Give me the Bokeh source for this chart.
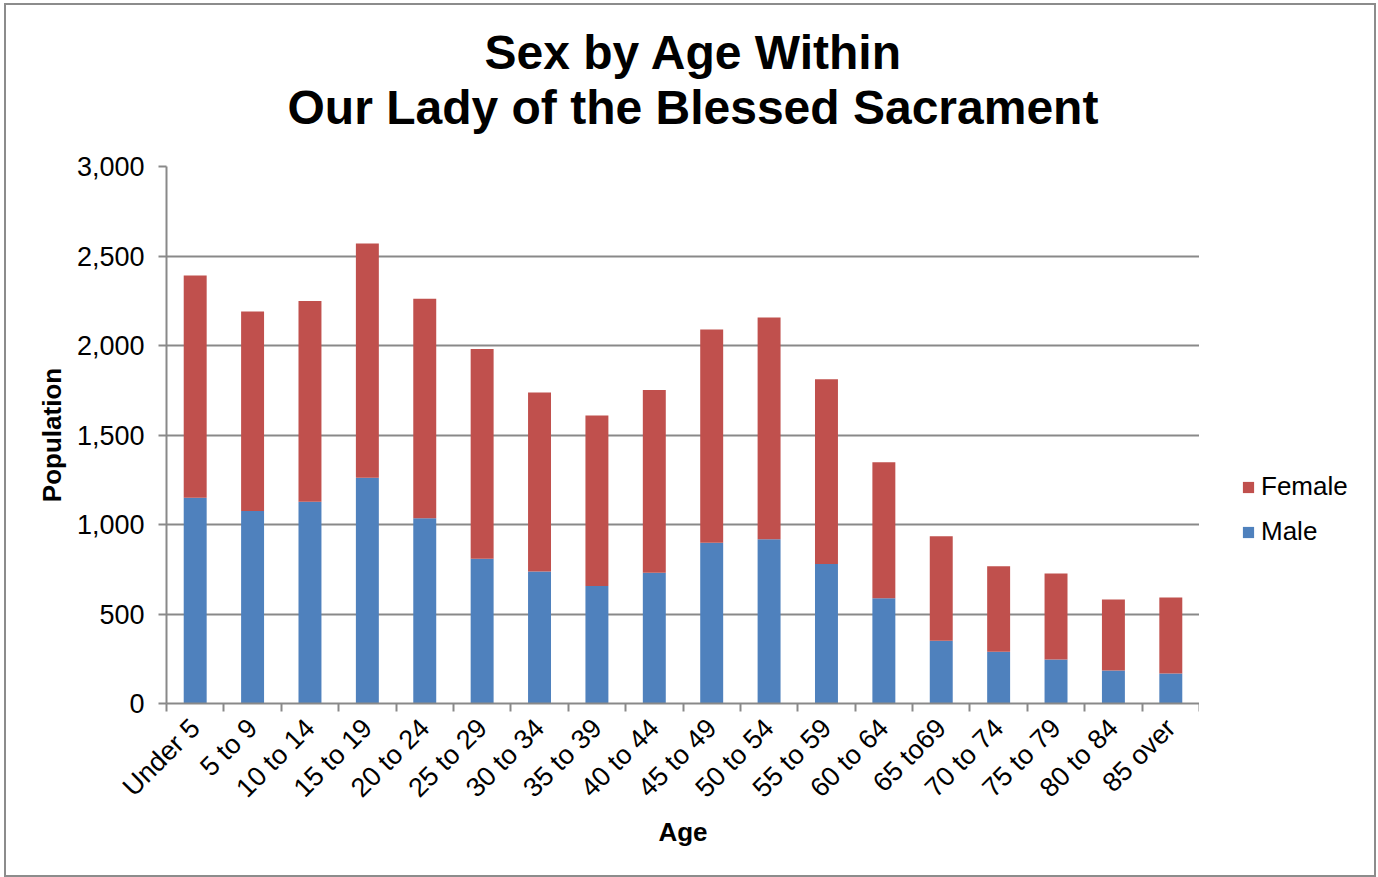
import numpy as np
from bokeh.plotting import figure
from bokeh.layouts import row
from bokeh.models import (Range1d, FixedTicker, NumeralTickFormatter, Legend, LegendItem, Title, ColumnDataSource)
from bokeh.embed import file_html
from bokeh.resources import INLINE

categories = ["Under 5", "5 to 9", "10 to 14", "15 to 19", "20 to 24", "25 to 29", "30 to 34",
              "35 to 39", "40 to 44", "45 to 49", "50 to 54", "55 to 59", "60 to 64", "65 to69",
              "70 to 74", "75 to 79", "80 to 84", "85 over"]
male = [1150, 1076, 1127, 1261, 1035, 808, 737, 657, 730, 898, 918, 780, 588, 350, 289, 246, 184, 168]
female = [1241, 1114, 1121, 1309, 1226, 1173, 1000, 952, 1022, 1191, 1238, 1032, 760, 585, 478, 480, 397, 424]
y_ticks = [0, 500, 1000, 1500, 2000, 2500, 3000]
series = ["Male", "Female"]
colors = ["#4F81BD", "#C0504D"]

FONT = "Liberation Sans"
GRAY = "#898989"

n = len(categories)
xpos = [i + 0.5 for i in range(n)]
src = ColumnDataSource(dict(x=xpos, Male=male, Female=female))

p = figure(width=1193, height=870, output_backend="svg", toolbar_location=None,
           x_range=Range1d(0, n), y_range=Range1d(0, 3000),
           min_border_left=160, min_border_right=0, min_border_top=161, min_border_bottom=172)
p.outline_line_color = None
p.background_fill_color = "white"
p.border_fill_color = "white"

r = p.vbar_stack(series, x="x", width=0.4, source=src, color=colors, line_color=None)

# axes
xa = p.xaxis[0]
xa.ticker = FixedTicker(ticks=xpos, minor_ticks=list(range(n + 1)))
xa.major_label_overrides = {x: c for x, c in zip(xpos, categories)}
xa.major_tick_line_color = None
xa.minor_tick_line_color = GRAY
xa.minor_tick_line_width = 2
xa.minor_tick_out = 8
xa.minor_tick_in = 0
xa.major_label_orientation = np.pi / 4
xa.major_label_standoff = 12
xa.major_label_text_font = FONT
xa.major_label_text_font_size = "27px"
xa.major_label_text_color = "black"
xa.axis_line_color = GRAY
xa.axis_line_width = 2
xa.axis_label = "Age"
xa.axis_label_text_font = FONT
xa.axis_label_text_font_style = "bold"
xa.axis_label_text_font_size = "26px"
xa.axis_label_text_color = "black"
xa.axis_label_standoff = 0

ya = p.yaxis[0]
ya.ticker = FixedTicker(ticks=y_ticks)
ya.formatter = NumeralTickFormatter(format="0,0")
ya.major_tick_line_color = GRAY
ya.major_tick_line_width = 2
ya.major_tick_out = 8
ya.major_tick_in = 0
ya.minor_tick_line_color = None
ya.major_label_standoff = 14
ya.major_label_text_font = FONT
ya.major_label_text_font_size = "27px"
ya.major_label_text_color = "black"
ya.axis_line_color = GRAY
ya.axis_line_width = 2
ya.axis_label = "Population"
ya.axis_label_text_font = FONT
ya.axis_label_text_font_style = "bold"
ya.axis_label_text_font_size = "26px"
ya.axis_label_text_color = "black"
ya.axis_label_standoff = 7

p.xgrid.grid_line_color = None
p.ygrid.ticker = FixedTicker(ticks=y_ticks)
p.ygrid.grid_line_color = GRAY
p.ygrid.grid_line_width = 2

# titles
t2 = Title(text="Our Lady of the Blessed Sacrament", align="left", offset=121, text_font=FONT,
           text_font_size="48px", text_font_style="bold", text_color="black", standoff=65)
t1 = Title(text="Sex by Age Within", align="left", offset=318, text_font=FONT,
           text_font_size="48px", text_font_style="bold", text_color="black", standoff=-65)
p.add_layout(t2, "above")
p.add_layout(t1, "above")

# legend panel (separate narrow figure to the right of the plot area)
p2 = figure(width=175, height=870, output_backend="svg", toolbar_location=None,
            x_range=Range1d(-3, -2), y_range=Range1d(0, 3000), x_axis_type=None, y_axis_type=None,
            min_border=0)
p2.outline_line_color = None
p2.background_fill_color = "white"
p2.border_fill_color = "white"
r2 = p2.vbar_stack(series, x="x", width=0.4, source=src, color=colors, line_color=None)

legend = Legend(items=[LegendItem(label=s, renderers=[rr]) for s, rr in reversed(list(zip(series, r2)))],
                location=(42, 156), orientation="vertical")
legend.label_text_font = FONT
legend.label_text_font_size = "26px"
legend.label_text_color = "black"
legend.glyph_width = 14
legend.glyph_height = 14
legend.label_standoff = 6
legend.spacing = 14
legend.padding = 0
legend.margin = 0
legend.border_line_color = None
legend.background_fill_alpha = 0
p2.add_layout(legend, "center")

layout = row(p, p2, spacing=0)
layout.styles = {"border": "2px solid #8c8c8c", "margin-left": "4px", "margin-top": "3px"}

open("out.html", "w").write(file_html(layout, INLINE))
